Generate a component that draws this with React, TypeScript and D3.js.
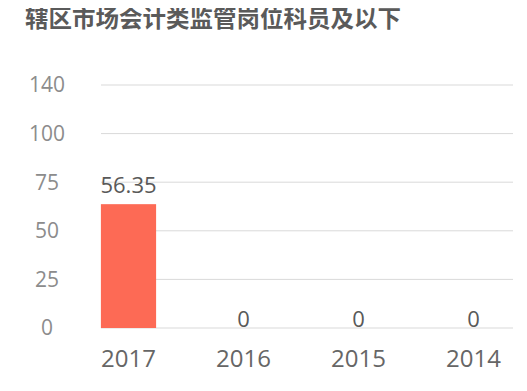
import * as d3 from 'd3'

const title = '辖区市场会计类监管岗位科员及以下'
const categories = ['2017', '2016', '2015', '2014']
// value shown above each bar
const values = [56.35, 0, 0, 0]
// where each bar reaches when read against the axis
const barLevels = [63.7, 0, 0, 0]
const tickValues = [0, 25, 50, 75, 100, 140]

const W = 527
const H = 391
const font = '"Open Sans", "Noto Sans", sans-serif'

export default function App() {
  const x = d3.scaleBand<string>()
    .domain(categories)
    .range([71, 531])
    .paddingInner(0.52)
    .paddingOuter(0.26)

  // ticks are equally spaced although their values are not
  const y = d3.scaleLinear()
    .domain(tickValues)
    .range(tickValues.map((_, i) => 328 - i * 48.6))

  return (
    <div style={{ margin: -8 }}>
      <svg width={W} height={H} style={{ display: 'block', background: '#fff' }}>
        <text x={25} y={27} fontFamily='"Noto Sans CJK SC", sans-serif' fontWeight="bold"
          fontSize={23.5} fill="#5a5a5a">{title}</text>

        {tickValues.map(t => (
          <g key={t}>
            <line x1={101} x2={513} y1={y(t)} y2={y(t)} stroke="#d9d9d9" strokeWidth={1} />
            <text x={47} y={y(t)} dy="0.35em" textAnchor="middle" fontFamily={font}
              fontSize={21} fill="#8c8c8c">{t}</text>
          </g>
        ))}

        {categories.map((c, i) => {
          const cx = (x(c) ?? 0) + x.bandwidth() / 2
          const top = y(barLevels[i])
          return (
            <g key={c}>
              <rect x={x(c)} y={top} width={x.bandwidth()} height={y(0) - top} fill="#fd6a55" />
              <text x={cx} y={values[i] > 0 ? top - 11 : top - 1} textAnchor="middle"
                fontFamily={font} fontSize={22} fill="#595959">{values[i]}</text>
              <text x={cx} y={367} textAnchor="middle" fontFamily={font}
                fontSize={24} fill="#666">{c}</text>
            </g>
          )
        })}
      </svg>
    </div>
  )
}
